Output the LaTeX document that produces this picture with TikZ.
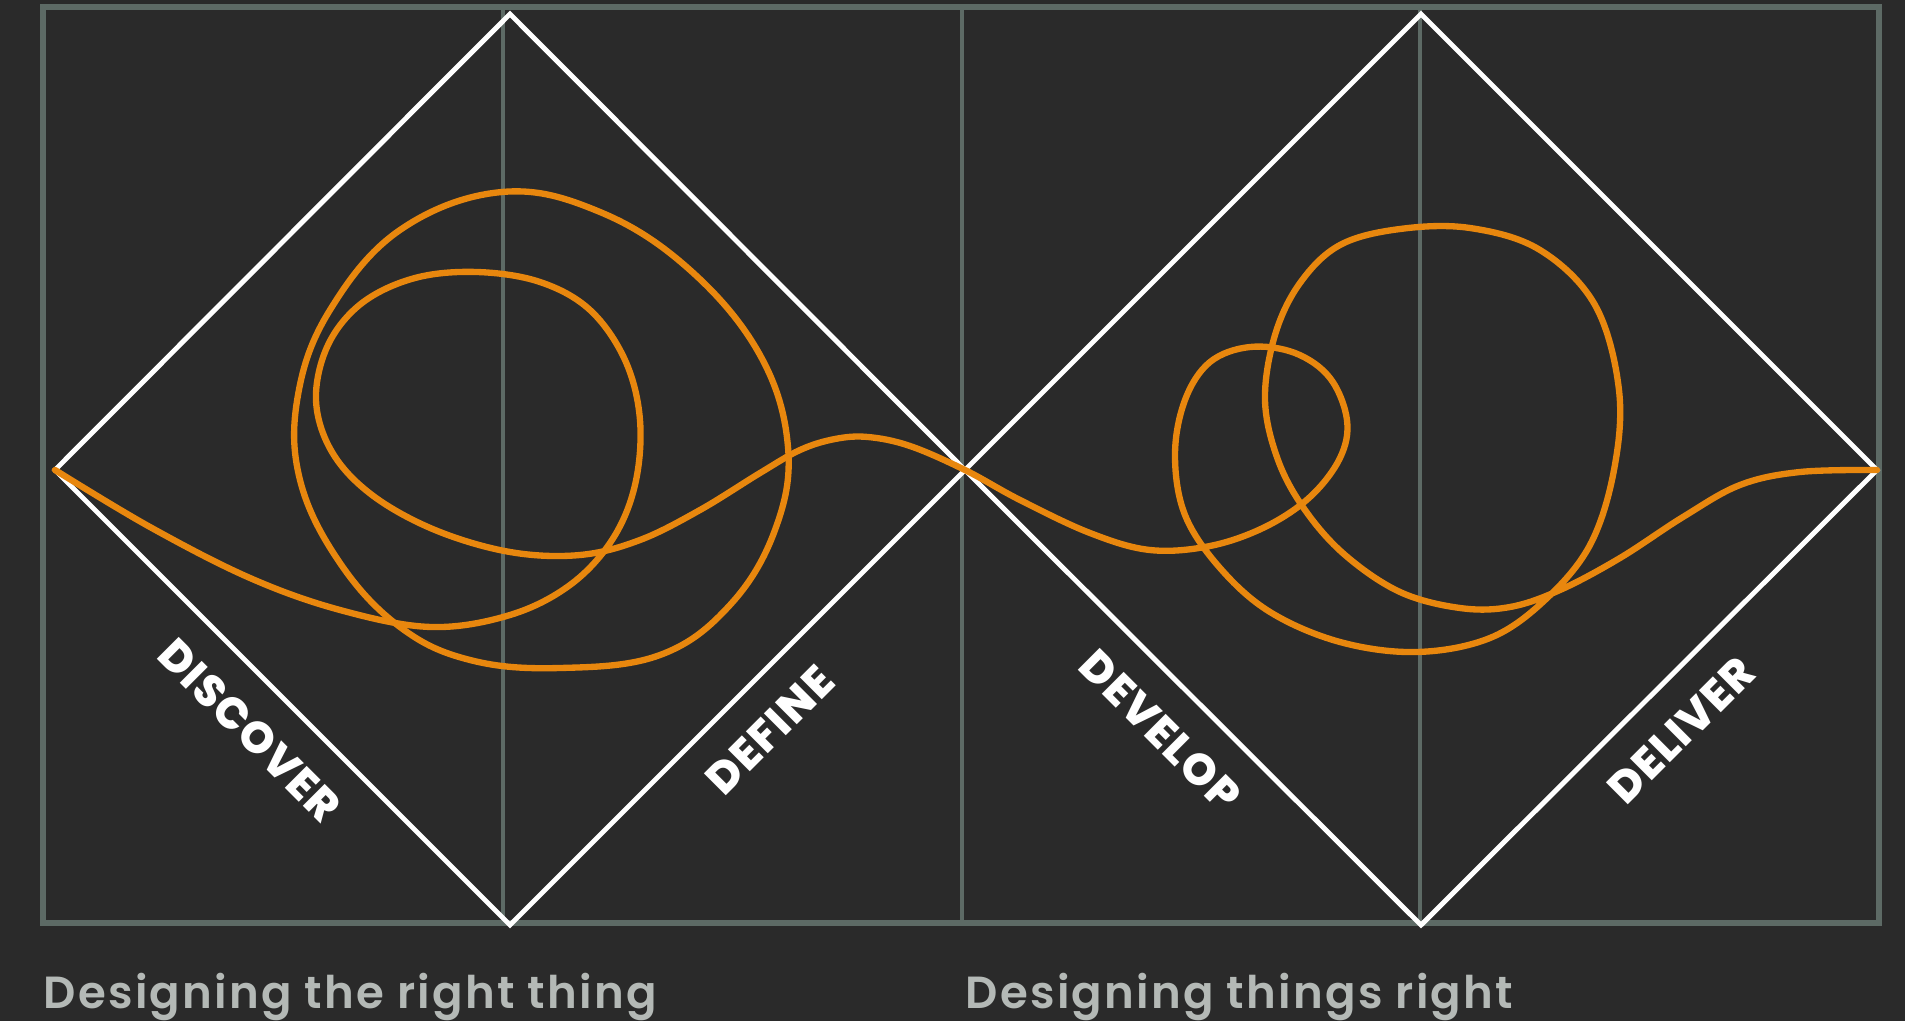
\documentclass[tikz,border=0pt]{standalone}
\usepackage{fontspec}
\setmainfont{Poppins}
\IfFontExistsTF{Poppins SemiBold}
  {\newfontfamily\capfont{Poppins SemiBold}[LetterSpace=5]}
  {\newfontfamily\capfont{Poppins}[FakeBold=1.2,LetterSpace=5]}
\IfFontExistsTF{Poppins ExtraBold}
  {\newfontfamily\phasefont{Poppins ExtraBold}[LetterSpace=3]}
  {\newfontfamily\phasefont{Poppins}[BoldFont=*,FakeBold=2,LetterSpace=3]}
\usepackage{tikz}
\usetikzlibrary{positioning}
\definecolor{board}{HTML}{2A2A2A}
\definecolor{grid}{HTML}{5D6A65}
\definecolor{squiggle}{HTML}{E8870E}
\definecolor{muted}{HTML}{B4B9B6}

\begin{document}
\begin{tikzpicture}[x=0.01cm,y=-0.01cm,
  frame/.style={draw=grid,line width=1.5pt},
  split/.style={draw=grid,line width=1.1pt},
  diam/.style={draw=white,line width=1.4pt,line join=miter},
  phase/.style={font=\fontsize{12.5}{13}\phasefont,text=white,inner sep=0pt,sloped,below=8pt},
  tagline/.style={font=\fontsize{12.8}{13}\capfont,text=muted,anchor=base west,inner sep=0pt},
  trail/.style={draw=squiggle,line width=1.8pt,line cap=round,line join=round},
]
\fill[board] (0,0) rectangle (1905,1021);

\draw[frame] (43,7) rectangle (1879,923);
\draw[split] (503,7) -- (503,923);
\draw[split] (962,7) -- (962,923);
\draw[split] (1420,7) -- (1420,923);

\coordinate (l)  at (55,470);
\coordinate (t1) at (510,14);
\coordinate (b1) at (510,925);
\coordinate (c)  at (965,470);
\coordinate (t2) at (1421,14);
\coordinate (b2) at (1421,925);
\coordinate (r)  at (1877,470);

\draw[diam] (l) -- node[phase] (disc) {DISCOVER} (b1)
  -- node[phase] (defi) {DEFINE} (c) -- (t1) -- cycle;
\draw[diam] (c) -- node[phase] (deve) {DEVELOP} (b2)
  -- node[phase] (deli) {DELIVER} (r) -- (t2) -- cycle;

% the squiggle
\draw[trail] plot[smooth cycle,tension=0.65] coordinates {(502,192) (600,212) (690,270)
  (760,355) (788,447) (775,530) (730,605) (660,655) (560,668) (470,660) (400,627)
  (340,563) (300,480) (298,395) (330,310) (400,230)};
\draw[trail] plot[smooth,tension=0.6] coordinates {(55,470) (150,527) (250,578) (340,610)
  (431,627) (510,615) (570,585) (612,540) (635,485) (640,420) (625,360) (590,310)
  (540,282) (477,272) (415,278) (362,303) (328,345) (316,400) (332,452) (372,495)
  (435,530) (510,552) (580,555) (640,540) (700,510) (760,473) (800,450) (835,439)
  (868,437) (910,446) (965,470)
  (1020,500) (1090,533) (1150,550) (1210,546) (1265,527) (1310,497) (1340,458)
  (1347,420) (1330,378) (1295,353) (1250,347) (1210,362) (1185,400) (1175,455)
  (1185,515) (1220,568) (1270,612) (1340,642) (1417,652) (1490,638) (1545,600)
  (1590,545) (1614,470) (1619,390) (1595,305) (1540,250) (1470,228) (1400,229)
  (1340,245) (1300,283) (1275,335) (1265,400) (1278,460) (1305,510) (1345,555)
  (1400,592) (1460,608) (1510,607) (1560,590) (1620,558) (1683,517) (1740,485)
  (1800,472) (1877,470)};

\node[tagline] (left) at (43,1008) {Designing the right thing};
\node[tagline] (right) at (965,1008) {Designing things right};
\end{tikzpicture}
\end{document}
